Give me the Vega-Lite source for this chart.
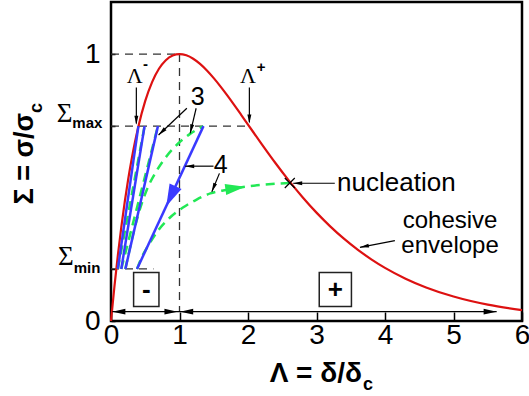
{
  "$schema": "https://vega.github.io/schema/vega-lite/v6.json",
  "width": 411,
  "height": 319,
  "autosize": {"type": "none"},
  "padding": {"left": 111, "top": 2, "right": 7, "bottom": 75},
  "background": "white",
  "config": {
    "view": {"stroke": "black", "strokeWidth": 2.5},
    "font": "Liberation Sans",
    "text": {"color": "black"}
  },
  "datasets": {
    "curve": [
      {"x": 0, "y": 0}, {"x": 0.05, "y": 0.1293}, {"x": 0.1, "y": 0.246}, {"x": 0.15, "y": 0.3509},
      {"x": 0.2, "y": 0.4451}, {"x": 0.25, "y": 0.5293}, {"x": 0.3, "y": 0.6041}, {"x": 0.35, "y": 0.6704},
      {"x": 0.4, "y": 0.7288}, {"x": 0.5, "y": 0.8244}, {"x": 0.6, "y": 0.8951}, {"x": 0.7, "y": 0.9449},
      {"x": 0.8, "y": 0.9771}, {"x": 0.9, "y": 0.9947}, {"x": 1.0, "y": 1.0}, {"x": 1.1, "y": 0.9953},
      {"x": 1.2, "y": 0.9825}, {"x": 1.3, "y": 0.9631}, {"x": 1.4, "y": 0.9384}, {"x": 1.5, "y": 0.9098},
      {"x": 1.6, "y": 0.8781}, {"x": 1.7, "y": 0.8442}, {"x": 1.8, "y": 0.8088}, {"x": 1.9, "y": 0.7725},
      {"x": 2.0, "y": 0.7358}, {"x": 2.2, "y": 0.6626}, {"x": 2.4, "y": 0.5918}, {"x": 2.6, "y": 0.5249},
      {"x": 2.8, "y": 0.4628}, {"x": 3.0, "y": 0.406}, {"x": 3.2, "y": 0.3546}, {"x": 3.4, "y": 0.3084},
      {"x": 3.6, "y": 0.2674}, {"x": 3.8, "y": 0.2311}, {"x": 4.0, "y": 0.1991}, {"x": 4.3, "y": 0.1586},
      {"x": 4.6, "y": 0.1257}, {"x": 5.0, "y": 0.0916}, {"x": 5.5, "y": 0.0611}, {"x": 6.0, "y": 0.0404}
    ],
    "guides": [
      {"id": "h1", "o": 0, "x": 0, "y": 1}, {"id": "h1", "o": 1, "x": 1, "y": 1},
      {"id": "v1", "o": 0, "x": 1, "y": 1}, {"id": "v1", "o": 1, "x": 1, "y": 0.035},
      {"id": "hmax", "o": 0, "x": 0, "y": 0.73}, {"id": "hmax", "o": 1, "x": 2.0, "y": 0.73},
      {"id": "hmin", "o": 0, "x": 0, "y": 0.195}, {"id": "hmin", "o": 1, "x": 0.62, "y": 0.195}
    ],
    "blue": [
      {"id": "b1", "o": 0, "x": 0.40, "y": 0.73}, {"id": "b1", "o": 1, "x": 0.10, "y": 0.195},
      {"id": "b2", "o": 0, "x": 0.49, "y": 0.73}, {"id": "b2", "o": 1, "x": 0.15, "y": 0.195},
      {"id": "b3", "o": 0, "x": 0.685, "y": 0.73}, {"id": "b3", "o": 1, "x": 0.21, "y": 0.195},
      {"id": "b4", "o": 0, "x": 1.35, "y": 0.73}, {"id": "b4", "o": 1, "x": 0.38, "y": 0.195}
    ],
    "green": [
      {"id": "g1", "o": 0, "x": 0.10, "y": 0.195}, {"id": "g1", "o": 1, "x": 0.49, "y": 0.73},
      {"id": "g2", "o": 0, "x": 0.15, "y": 0.195}, {"id": "g2", "o": 1, "x": 0.685, "y": 0.73},
      {"id": "g3", "o": 0, "x": 0.21, "y": 0.195}, {"id": "g3", "o": 1, "x": 0.30, "y": 0.30},
      {"id": "g3", "o": 2, "x": 0.40, "y": 0.40}, {"id": "g3", "o": 3, "x": 0.52, "y": 0.49},
      {"id": "g3", "o": 4, "x": 0.66, "y": 0.56}, {"id": "g3", "o": 5, "x": 0.82, "y": 0.62},
      {"id": "g3", "o": 6, "x": 0.98, "y": 0.665}, {"id": "g3", "o": 7, "x": 1.15, "y": 0.70},
      {"id": "g3", "o": 8, "x": 1.35, "y": 0.73},
      {"id": "g4", "o": 0, "x": 0.38, "y": 0.195}, {"id": "g4", "o": 1, "x": 0.46, "y": 0.245},
      {"id": "g4", "o": 2, "x": 0.55, "y": 0.285}, {"id": "g4", "o": 3, "x": 0.69, "y": 0.34},
      {"id": "g4", "o": 4, "x": 0.85, "y": 0.385}, {"id": "g4", "o": 5, "x": 1.05, "y": 0.425},
      {"id": "g4", "o": 6, "x": 1.25, "y": 0.455}, {"id": "g4", "o": 7, "x": 1.45, "y": 0.478},
      {"id": "g4", "o": 8, "x": 1.7, "y": 0.492}, {"id": "g4", "o": 9, "x": 1.96, "y": 0.503},
      {"id": "g4", "o": 10, "x": 2.3, "y": 0.512}, {"id": "g4", "o": 11, "x": 2.61, "y": 0.517}
    ],
    "arrows": [
      {"x": 0.37, "y": 0.875, "x2": 0.37, "y2": 0.74},
      {"x": 2.02, "y": 0.875, "x2": 2.02, "y2": 0.745},
      {"x": 1.107, "y": 0.797, "x2": 0.694, "y2": 0.697},
      {"x": 1.243, "y": 0.797, "x2": 1.156, "y2": 0.703},
      {"x": 1.496, "y": 0.58, "x2": 1.083, "y2": 0.58},
      {"x": 1.583, "y": 0.553, "x2": 1.472, "y2": 0.484},
      {"x": 3.267, "y": 0.516, "x2": 2.66, "y2": 0.516},
      {"x": 4.144, "y": 0.301, "x2": 3.634, "y2": 0.276},
      {"x": 0.02, "y": 0.035, "x2": 5.63, "y2": 0.035}
    ],
    "heads": [
      {"x": 0.37, "y": 0.735, "dir": "down"},
      {"x": 2.02, "y": 0.74, "dir": "down"},
      {"x": 0.694, "y": 0.697, "dir": "a3"},
      {"x": 1.156, "y": 0.703, "dir": "a4"},
      {"x": 1.083, "y": 0.58, "dir": "left"},
      {"x": 1.472, "y": 0.484, "dir": "a6"},
      {"x": 2.66, "y": 0.516, "dir": "left"},
      {"x": 3.634, "y": 0.276, "dir": "a8"}
    ],
    "bigheads": [
      {"x": 0.02, "y": 0.035, "dir": "left"},
      {"x": 0.97, "y": 0.035, "dir": "right"},
      {"x": 1.01, "y": 0.035, "dir": "left"},
      {"x": 5.63, "y": 0.035, "dir": "right"}
    ],
    "boxes": [
      {"x": 0.33, "x2": 0.70, "y": 0.054, "y2": 0.182, "t": "-", "cx": 0.515, "cy": 0.118},
      {"x": 3.04, "x2": 3.51, "y": 0.054, "y2": 0.182, "t": "+", "cx": 3.275, "cy": 0.118}
    ]
  },
  "encoding": {
    "x": {
      "field": "x", "type": "quantitative",
      "scale": {"domain": [0, 6], "nice": false, "zero": false},
      "axis": {
        "values": [0, 1, 2, 3, 4, 5, 6], "title": null, "grid": false, "domain": false,
        "tickSize": -9, "tickColor": "black", "tickWidth": 1.5,
        "labelFontSize": 28, "labelFont": "Liberation Sans", "labelColor": "black",
        "labelPadding": 9, "labelFlush": false
      }
    },
    "y": {
      "field": "y", "type": "quantitative",
      "scale": {"domain": [0, 1.195], "nice": false, "zero": false},
      "axis": {
        "values": [0, 0.195, 0.73, 1], "title": null, "grid": false, "domain": false,
        "tickSize": -4, "tickColor": "black", "tickWidth": 1.5,
        "labelExpr": "datum.value == 0 ? '0' : (datum.value == 1 ? '1' : '')",
        "labelFontSize": 28, "labelFont": "Liberation Sans", "labelColor": "black",
        "labelPadding": 15
      }
    }
  },
  "layer": [
    {
      "data": {"name": "guides"},
      "mark": {"type": "line", "stroke": "#333333", "strokeWidth": 1.3, "strokeDash": [8, 6]},
      "encoding": {"detail": {"field": "id"}, "order": {"field": "o"}}
    },
    {
      "data": {"name": "curve"},
      "mark": {"type": "line", "stroke": "#dd1111", "strokeWidth": 2.2, "interpolate": "monotone"},
      "encoding": {}
    },
    {
      "data": {"name": "green"},
      "mark": {"type": "line", "stroke": "#22e855", "strokeWidth": 2.5, "strokeDash": [9, 6], "interpolate": "monotone"},
      "encoding": {"detail": {"field": "id"}, "order": {"field": "o"}}
    },
    {
      "data": {"name": "blue"},
      "mark": {"type": "line", "stroke": "#3a3aff", "strokeWidth": 2.5},
      "encoding": {"detail": {"field": "id"}, "order": {"field": "o"}}
    },
    {
      "data": {"name": "arrows"},
      "mark": {"type": "rule", "stroke": "black", "strokeWidth": 1.2},
      "encoding": {"x2": {"field": "x2"}, "y2": {"field": "y2"}}
    },
    {
      "data": {"name": "heads"},
      "mark": {"type": "point", "shape": "M0,0L-0.22,1L0.22,1Z", "filled": true, "color": "black", "opacity": 1, "size": 324},
      "encoding": {
        "angle": {"field": "dir", "type": "nominal", "legend": null,
          "scale": {"type": "ordinal", "domain": ["down", "left", "right", "a3", "a4", "a6", "a8"], "range": [180, 270, 90, 227, 193, 202, 259]}}
      }
    },
    {
      "data": {"name": "bigheads"},
      "mark": {"type": "point", "shape": "M0,0L-0.22,1L0.22,1Z", "filled": true, "color": "black", "opacity": 1, "size": 676},
      "encoding": {
        "angle": {"field": "dir", "type": "nominal", "legend": null,
          "scale": {"type": "ordinal", "domain": ["down", "left", "right", "a3", "a4", "a6", "a8"], "range": [180, 270, 90, 227, 193, 202, 259]}}
      }
    },
    {
      "data": {"values": [{"x": 0.807, "y": 0.43}]},
      "mark": {"type": "point", "shape": "M0,0L-0.3,1L0.3,1Z", "filled": true, "color": "#3a3aff", "opacity": 1, "size": 1936, "angle": 205},
      "encoding": {}
    },
    {
      "data": {"values": [{"x": 1.96, "y": 0.503}]},
      "mark": {"type": "point", "shape": "M0,0L-0.28,1L0.28,1Z", "filled": true, "color": "#22e855", "opacity": 1, "size": 1600, "angle": 82},
      "encoding": {}
    },
    {
      "data": {"values": [{"x": 2.61, "y": 0.517}]},
      "mark": {"type": "point", "shape": "M-1,-1L1,1M-1,1L1,-1", "filled": false, "stroke": "black", "strokeWidth": 1.2, "opacity": 1, "size": 100},
      "encoding": {}
    },
    {
      "data": {"name": "boxes"},
      "mark": {"type": "rect", "fill": "white", "stroke": "#222222", "strokeWidth": 1.5},
      "encoding": {"x2": {"field": "x2"}, "y2": {"field": "y2"}}
    },
    {
      "data": {"name": "boxes"},
      "mark": {"type": "text", "fontSize": 26, "fontWeight": "bold", "align": "center", "baseline": "middle"},
      "encoding": {"x": {"field": "cx", "type": "quantitative"}, "y": {"field": "cy", "type": "quantitative"}, "text": {"field": "t"}}
    },
    {
      "data": {"values": [{"x": 3.30, "y": 0.488, "t": "nucleation"}]},
      "mark": {"type": "text", "fontSize": 26, "align": "left", "baseline": "alphabetic"},
      "encoding": {"text": {"field": "t"}}
    },
    {
      "data": {"values": [{"x": 4.95, "y": 0.348, "t": "cohesive"}, {"x": 4.95, "y": 0.255, "t": "envelope"}]},
      "mark": {"type": "text", "fontSize": 24, "align": "center", "baseline": "alphabetic"},
      "encoding": {"text": {"field": "t"}}
    },
    {
      "data": {"values": [{"x": 1.267, "y": 0.809, "t": "3"}, {"x": 1.60, "y": 0.554, "t": "4"}]},
      "mark": {"type": "text", "fontSize": 25, "align": "center", "baseline": "alphabetic"},
      "encoding": {"text": {"field": "t"}}
    },
    {
      "data": {"values": [{"x": 0.347, "y": 0.891, "t": "Λ"}, {"x": 2.0, "y": 0.891, "t": "Λ"}]},
      "mark": {"type": "text", "font": "Liberation Serif", "fontSize": 22, "align": "center", "baseline": "alphabetic"},
      "encoding": {"text": {"field": "t"}}
    },
    {
      "data": {"values": [{"x": 0.503, "y": 0.964, "t": "-"}, {"x": 2.19, "y": 0.951, "t": "+"}]},
      "mark": {"type": "text", "fontSize": 15, "fontWeight": "bold", "align": "center", "baseline": "middle"},
      "encoding": {"text": {"field": "t"}}
    },
    {
      "data": {"values": [{"x": -0.564, "y": 0.746, "t": "Σ"}, {"x": -0.545, "y": 0.21, "t": "Σ"}]},
      "mark": {"type": "text", "font": "Liberation Serif", "fontSize": 27, "align": "right", "baseline": "alphabetic"},
      "encoding": {"text": {"field": "t"}}
    },
    {
      "data": {"values": [{"x": -0.564, "y": 0.722, "t": "max"}, {"x": -0.545, "y": 0.179, "t": "min"}]},
      "mark": {"type": "text", "fontSize": 15, "fontWeight": "bold", "align": "left", "baseline": "alphabetic"},
      "encoding": {"text": {"field": "t"}}
    },
    {
      "data": {"values": [{"x": 3.664, "y": -0.227, "t": "Λ = δ/δ"}]},
      "mark": {"type": "text", "fontSize": 28, "fontWeight": "bold", "align": "right", "baseline": "alphabetic"},
      "encoding": {"text": {"field": "t"}}
    },
    {
      "data": {"values": [{"x": 3.679, "y": -0.258, "t": "c"}]},
      "mark": {"type": "text", "fontSize": 18, "fontWeight": "bold", "align": "left", "baseline": "alphabetic"},
      "encoding": {"text": {"field": "t"}}
    },
    {
      "data": {"values": [{"x": -1.139, "y": 0.779, "t": "Σ = σ/σ"}]},
      "mark": {"type": "text", "fontSize": 27, "fontWeight": "bold", "align": "right", "baseline": "alphabetic", "angle": 270},
      "encoding": {"text": {"field": "t"}}
    },
    {
      "data": {"values": [{"x": -1.007, "y": 0.779, "t": "c"}]},
      "mark": {"type": "text", "fontSize": 18, "fontWeight": "bold", "align": "left", "baseline": "alphabetic", "angle": 270},
      "encoding": {"text": {"field": "t"}}
    }
  ]
}
